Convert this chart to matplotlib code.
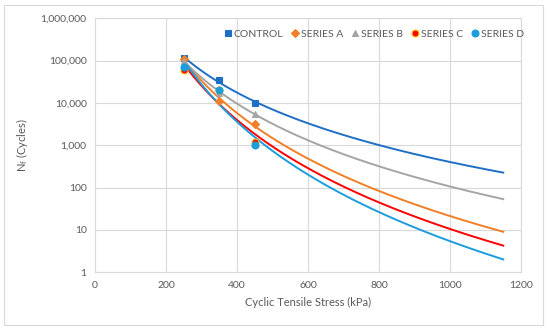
import numpy as np
import matplotlib.pyplot as plt
from matplotlib.ticker import FuncFormatter

stress = [250, 350, 450]
names = ['CONTROL', 'SERIES A', 'SERIES B', 'SERIES C', 'SERIES D']
cycles = {
    'CONTROL': [115000, 35000, 10000],
    'SERIES A': [110000, 11000, 3100],
    'SERIES B': [100000, 17500, 5600],
    'SERIES C': [60000, 20000, 1200],
    'SERIES D': [72000, 20000, 1000],
}
trend_end = 1150

colors = {'CONTROL': '#1F6FC5', 'SERIES A': '#F07F26', 'SERIES B': '#A5A5A5',
          'SERIES C': '#FF0000', 'SERIES D': '#1B9DDE'}
markers = {'CONTROL': 's', 'SERIES A': 'D', 'SERIES B': '^',
           'SERIES C': 'o', 'SERIES D': 'o'}

plt.rcParams['font.family'] = ['Lato', 'DejaVu Sans']
txt = '#595959'
grid = '#D9D9D9'

fig = plt.figure(figsize=(5.5, 3.31), dpi=100)
ax = fig.add_axes([95/550, 1-272.3/331, 426/550, 254/331])

# outer chart border
fig.patches.append(plt.Rectangle((4/550, 6/331), 539/550, 320/331, transform=fig.transFigure,
                                 fill=False, edgecolor=grid, lw=0.8))

xs = np.linspace(stress[0], trend_end, 200)
for n in names:
    y = cycles[n]
    # power trendline like Excel
    b, a = np.polyfit(np.log(stress), np.log(y), 1)
    ax.plot(xs, np.exp(a) * xs**b, color=colors[n], lw=1.4, zorder=3)

for n in names:
    y = cycles[n]
    ms = 4 if markers[n] == 'D' else 5
    ec = '#FFC000' if n == 'SERIES C' else colors[n]
    ax.plot(stress, y, linestyle='none', marker=markers[n], ms=ms,
            color=colors[n], markeredgecolor=ec, markeredgewidth=0.8, label=n, zorder=4)

ax.set_yscale('log')
ax.set_ylim(1, 1e6)
ax.set_xlim(0, 1200)
ax.set_xticks(range(0, 1201, 200))
ax.set_yticks([10**k for k in range(7)])
ax.yaxis.set_minor_locator(plt.NullLocator())
ax.yaxis.set_major_formatter(FuncFormatter(lambda v, p: '{:,.0f}'.format(v)))
ax.grid(True, color=grid, lw=0.8)
ax.set_axisbelow(True)
for s in ax.spines.values():
    s.set_color(grid)
    s.set_linewidth(0.8)
ax.tick_params(length=0, labelsize=7.5, colors=txt, pad=6)

ax.set_xlabel('Cyclic Tensile Stress (kPa)', fontsize=8, color=txt, labelpad=5)
ax.set_ylabel('N$_\\mathregular{f}$ (Cycles)', fontsize=8, color=txt, labelpad=8)

ax.legend(loc='center', bbox_to_anchor=(0.655, 0.938), ncol=5, frameon=False,
          fontsize=7.5, labelcolor=txt, handlelength=0.7, handletextpad=0.2,
          columnspacing=0.8, markerscale=1.0)

fig.savefig('out.png', dpi=100)
